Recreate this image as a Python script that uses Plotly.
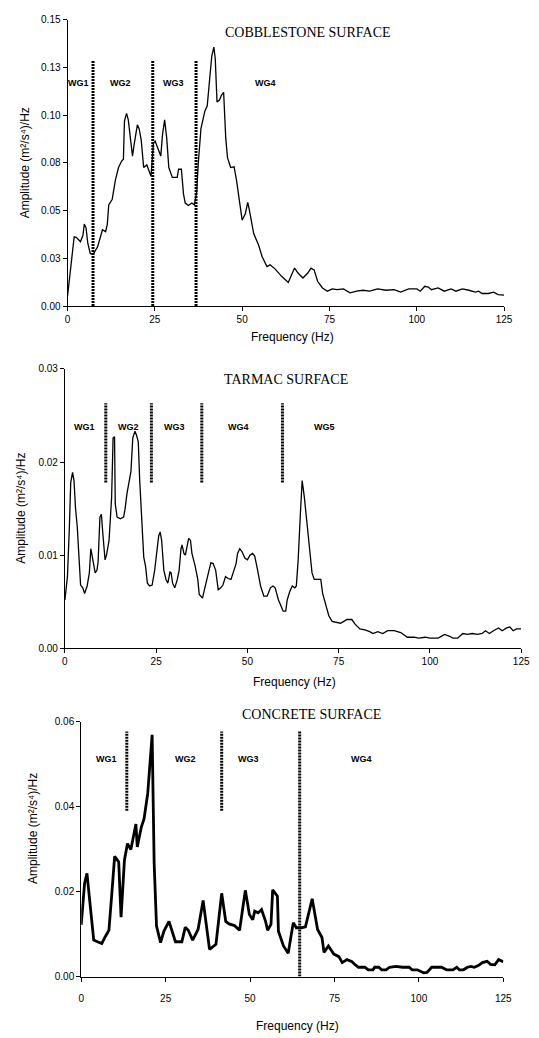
import plotly.graph_objects as go

W, H = 539, 1038

# ---------------- DATA ----------------
cob_freq = [0, 1.3, 1.9, 2.5, 3.7, 4.4, 4.8, 5.3, 5.8, 6.5, 7.3, 8.6, 9.5, 10.0, 10.9, 11.4, 11.8, 12.8,
            13.7, 14.6, 15.5, 16.0, 16.3, 16.9, 17.4, 18.1, 18.6, 19.1, 20.0, 20.5, 21.1, 21.8, 22.7, 23.5,
            23.9, 24.6, 25.1, 25.8, 26.7, 27.2, 27.8, 28.4, 29.0, 30.0, 31.4, 31.8, 32.6, 33.2, 33.7, 34.6,
            35.6, 36.3, 37.0, 37.4, 38.2, 39.3, 40.0, 40.7, 41.3, 41.9, 42.3, 42.8, 43.5, 44.1, 44.7, 45.3,
            45.8, 46.7, 47.7, 48.4, 49.1, 50.0, 50.9, 51.6, 52.1, 53.3, 54.7, 55.7, 57.1, 58.0, 59.4, 61.3,
            63.2, 64.1, 65.0, 66.0, 67.4, 68.8, 69.7, 70.6, 71.6, 73.0, 74.4, 75.8, 77.2, 79.0, 80.9, 82.8,
            84.6, 86.5, 88.8, 91.2, 93.5, 95.4, 97.7, 100.0, 101.0, 102.3, 103.3, 104.2, 106.1, 107.9, 109.8,
            111.2, 113.1, 114.9, 116.8, 117.7, 118.7, 120.5, 122.0, 123.3, 125.0]
cob_amp = [0.0052, 0.026, 0.0363, 0.036, 0.0337, 0.037, 0.043, 0.041, 0.033, 0.0276, 0.027, 0.031, 0.036,
           0.040, 0.039, 0.043, 0.053, 0.056, 0.066, 0.0726, 0.076, 0.077, 0.097, 0.101, 0.0976, 0.085,
           0.0786, 0.085, 0.095, 0.093, 0.087, 0.0726, 0.074, 0.070, 0.068, 0.0855, 0.0864, 0.083, 0.0786,
           0.090, 0.0976, 0.088, 0.0726, 0.0674, 0.0674, 0.0717, 0.0717, 0.0588, 0.054, 0.0527, 0.054,
           0.053, 0.060, 0.074, 0.093, 0.102, 0.105, 0.119, 0.131, 0.1357, 0.1296, 0.107, 0.108, 0.1106,
           0.112, 0.088, 0.0778, 0.0726, 0.073, 0.0657, 0.057, 0.045, 0.0484, 0.0544, 0.050, 0.038, 0.032,
           0.026, 0.0207, 0.0216, 0.0195, 0.0156, 0.0124, 0.0164, 0.0199, 0.0173, 0.0147, 0.0173, 0.0199,
           0.019, 0.013, 0.0095, 0.0078, 0.009, 0.0086, 0.009, 0.0069, 0.0078, 0.0083, 0.0078, 0.009,
           0.0083, 0.0086, 0.0073, 0.009, 0.009, 0.0078, 0.0104, 0.010, 0.0086, 0.0095, 0.0078, 0.009,
           0.0078, 0.009, 0.0083, 0.0073, 0.0078, 0.0066, 0.0066, 0.0073, 0.006, 0.0057]

tar_freq = [0, 0.7, 1.2, 1.6, 2.1, 2.5, 2.9, 3.4, 3.8, 4.3, 4.9, 5.4, 6.1, 6.7, 7.1, 7.7, 8.3, 8.8, 9.1,
            9.6, 10.0, 10.4, 11.0, 11.4, 12.1, 12.8, 13.2, 13.6, 13.8, 14.3, 15.2, 16.1, 16.5, 17.0, 17.6,
            18.1, 18.6, 19.2, 19.6, 20.1, 20.5, 21.2, 21.6, 22.1, 22.6, 23.2, 23.9, 24.6, 25.2, 25.7, 26.1,
            26.5, 27.1, 27.7, 28.2, 28.8, 29.1, 29.5, 30.1, 30.8, 31.3, 31.8, 32.1, 32.6, 33.0, 33.5, 33.9,
            34.4, 34.8, 35.7, 36.4, 36.8, 37.3, 37.7, 38.1, 38.8, 39.5, 40.0, 40.6, 41.3, 42.0, 42.7, 43.3,
            44.0, 44.7, 45.5, 46.3, 46.9, 47.3, 47.9, 48.5, 49.3, 50.0, 50.7, 51.4, 52.0, 52.7, 53.6, 54.5,
            55.4, 56.3, 57.0, 57.6, 58.5, 59.8, 60.5, 60.9, 61.6, 62.3, 63.0, 63.4, 63.9, 64.5, 65.0, 65.6,
            66.3, 67.0, 67.7, 68.3, 69.2, 70.1, 70.6, 71.5, 72.3, 73.2, 74.6, 75.5, 76.4, 77.3, 78.6, 79.5,
            80.8, 82.2, 83.5, 84.4, 85.7, 87.1, 88.4, 90.2, 92.0, 93.8, 95.6, 96.9, 98.7, 100.0, 102.3,
            104.0, 105.4, 106.3, 107.6, 109.0, 110.3, 111.6, 113.0, 114.3, 115.2, 116.3, 117.4, 118.8,
            119.8, 121.0, 121.9, 122.8, 123.7, 125.0]
tar_amp = [0.0052, 0.0077, 0.0127, 0.0178, 0.0189, 0.018, 0.0151, 0.013, 0.0102, 0.0068, 0.0065, 0.0059,
           0.0067, 0.0081, 0.0107, 0.0095, 0.0081, 0.0084, 0.0093, 0.0141, 0.0144, 0.0123, 0.0095, 0.0100,
           0.0116, 0.0162, 0.0226, 0.0227, 0.0155, 0.0141, 0.0139, 0.0141, 0.0150, 0.0166, 0.0180, 0.0190,
           0.0226, 0.0233, 0.0229, 0.0222, 0.0180, 0.0130, 0.0098, 0.0088, 0.0070, 0.0067, 0.0068, 0.0084,
           0.0102, 0.0121, 0.0125, 0.0116, 0.0084, 0.0074, 0.0070, 0.0082, 0.0081, 0.0070, 0.0065, 0.0074,
           0.0084, 0.0107, 0.0111, 0.0102, 0.0100, 0.0112, 0.0118, 0.0116, 0.0102, 0.0088, 0.0074, 0.0058,
           0.0056, 0.0054, 0.0061, 0.0074, 0.0084, 0.0092, 0.0091, 0.0084, 0.0063, 0.0065, 0.0068, 0.0077,
           0.0075, 0.0074, 0.0084, 0.0091, 0.0102, 0.0107, 0.0104, 0.0097, 0.0095, 0.0100, 0.0102, 0.0099,
           0.0086, 0.0067, 0.0056, 0.0056, 0.0065, 0.0067, 0.0065, 0.0052, 0.0040, 0.0040, 0.0052, 0.0061,
           0.0067, 0.0065, 0.0067, 0.0095, 0.0144, 0.0180, 0.0162, 0.0134, 0.0102, 0.0081, 0.0074, 0.0074,
           0.0074, 0.0059, 0.0047, 0.0035, 0.0029, 0.0028, 0.0027, 0.0029, 0.0031, 0.0031, 0.0026, 0.0021,
           0.0020, 0.0018, 0.0016, 0.0018, 0.0016, 0.0019, 0.0019, 0.0017, 0.0012, 0.0012, 0.0011, 0.0012,
           0.0011, 0.0011, 0.0015, 0.0013, 0.0011, 0.0011, 0.0016, 0.0015, 0.0016, 0.0015, 0.0016, 0.0019,
           0.0016, 0.0019, 0.0022, 0.0019, 0.0022, 0.0023, 0.0019, 0.0021, 0.0021]

con_freq = [0, 1.0, 1.7, 2.7, 3.7, 4.8, 6.1, 7.2, 8.2, 9.0, 9.9, 11.1, 11.8, 12.8, 13.7, 14.7, 16.2, 16.6,
            17.8, 18.6, 19.7, 21.0, 21.6, 22.3, 23.5, 24.5, 26.0, 27.9, 29.8, 30.8, 31.7, 33.0, 34.6, 36.1,
            38.0, 39.9, 41.6, 42.8, 43.8, 45.4, 46.9, 48.6, 49.8, 50.8, 51.4, 52.4, 53.4, 54.6, 55.2, 56.2,
            56.7, 58.1, 58.4, 59.9, 61.3, 62.8, 63.7, 65.2, 66.4, 68.4, 70.0, 71.3, 71.9, 73.2, 74.8, 76.3,
            77.3, 78.7, 80.2, 81.1, 82.1, 84.0, 85.0, 86.4, 86.9, 88.1, 89.0, 90.3, 91.3, 93.2, 95.1, 97.1,
            98.0, 99.5, 101.4, 102.4, 103.8, 106.7, 108.2, 110.1, 111.2, 112.0, 113.2, 114.4, 115.4, 116.4,
            117.6, 118.8, 120.2, 121.2, 122.5, 123.6, 125.0]
con_amp = [0.0122, 0.022, 0.0243, 0.0165, 0.0086, 0.0082, 0.0078, 0.0095, 0.0109, 0.0189, 0.0283, 0.0270,
           0.0140, 0.0274, 0.0313, 0.0299, 0.0359, 0.0305, 0.0352, 0.0371, 0.0431, 0.0569, 0.0266, 0.0119,
           0.0080, 0.0107, 0.0130, 0.0082, 0.0082, 0.0116, 0.0109, 0.0086, 0.0111, 0.0179, 0.0064, 0.0076,
           0.0196, 0.0130, 0.0124, 0.0120, 0.0109, 0.0203, 0.0146, 0.0134, 0.0154, 0.0150, 0.0158, 0.0130,
           0.0109, 0.0123, 0.0204, 0.0189, 0.0107, 0.0072, 0.0055, 0.0127, 0.0115, 0.0115, 0.0117, 0.0183,
           0.0111, 0.0092, 0.0057, 0.0072, 0.0053, 0.0047, 0.0033, 0.0040, 0.0035, 0.0028, 0.0022, 0.0022,
           0.0016, 0.0016, 0.0022, 0.0022, 0.0016, 0.0016, 0.0022, 0.0024, 0.0022, 0.0022, 0.0016, 0.0016,
           0.0009, 0.0010, 0.0022, 0.0022, 0.0016, 0.0016, 0.0022, 0.0016, 0.0016, 0.0022, 0.0024, 0.0022,
           0.0026, 0.0033, 0.0036, 0.0029, 0.0028, 0.0040, 0.0035]

# zone boundaries (Hz) and their vertical extents (amplitude)
cob_bounds = [7.3, 24.4, 36.8]
cob_bound_lo = [0.0, 0.0, 0.0]
cob_bound_hi = [0.129, 0.129, 0.129]
cob_zone_labels = ["WG1", "WG2", "WG3", "WG4"]
cob_zone_x = [3.1, 15.3, 30.2, 56.8]
cob_zone_y = 0.117

tar_bounds = [11.2, 23.7, 37.5, 59.6]
tar_bound_lo = [0.0178, 0.0178, 0.0178, 0.0178]
tar_bound_hi = [0.0263, 0.0263, 0.0263, 0.0263]
tar_zone_labels = ["WG1", "WG2", "WG3", "WG4", "WG5"]
tar_zone_x = [5.4, 17.4, 30.1, 47.5, 71.0]
tar_zone_y = 0.0238

con_bounds = [13.5, 41.6, 64.7]
con_bound_lo = [0.039, 0.039, 0.0]
con_bound_hi = [0.0577, 0.0577, 0.0577]
con_zone_labels = ["WG1", "WG2", "WG3", "WG4"]
con_zone_x = [7.5, 31.0, 49.5, 82.9]
con_zone_y = 0.0512

x_ticks = [0, 25, 50, 75, 100, 125]
cob_yticks = [0, 0.025, 0.05, 0.075, 0.1, 0.125, 0.15]
cob_ytext = ["0.00", "0.03", "0.05", "0.08", "0.10", "0.13", "0.15"]
tar_yticks = [0, 0.01, 0.02, 0.03]
tar_ytext = ["0.00", "0.01", "0.02", "0.03"]
con_yticks = [0, 0.02, 0.04, 0.06]
con_ytext = ["0.00", "0.02", "0.04", "0.06"]

titles = ["COBBLESTONE SURFACE", "TARMAC SURFACE", "CONCRETE SURFACE"]
ytitle = "Amplitude (m²/s⁴)/Hz"
xtitle = "Frequency (Hz)"

# ---------------- LAYOUT HELPERS ----------------
def px(x):
    return x / W

def py(y):
    return 1 - y / H

SANS = "Liberation Sans, Arial, sans-serif"
SERIF = "Liberation Serif, Times New Roman, serif"

fig = go.Figure()

panels = [
    dict(ax="", freq=cob_freq, amp=cob_amp, lw=1.3, xd=(66, 512.5), yd=(14, 303.3), yr=0.15,
         yt=cob_yticks, ytt=cob_ytext, b=cob_bounds, blo=cob_bound_lo, bhi=cob_bound_hi,
         zl=cob_zone_labels, zx=cob_zone_x, zy=cob_zone_y,
         title_xy=(312, 27), xt_xy=(296, 335), yt_xy=(22.5, 158), xstand=0),
    dict(ax="2", freq=tar_freq, amp=tar_amp, lw=1.3, xd=(63.3, 530), yd=(366.7, 649.3), yr=0.03,
         yt=tar_yticks, ytt=tar_ytext, b=tar_bounds, blo=tar_bound_lo, bhi=tar_bound_hi,
         zl=tar_zone_labels, zx=tar_zone_x, zy=tar_zone_y,
         title_xy=(289, 377), xt_xy=(298, 683), yt_xy=(18.5, 508), xstand=0),
    dict(ax="3", freq=con_freq, amp=con_amp, lw=2.8, xd=(80, 511.7), yd=(723.3, 981), yr=0.06,
         yt=con_yticks, ytt=con_ytext, b=con_bounds, blo=con_bound_lo, bhi=con_bound_hi,
         zl=con_zone_labels, zx=con_zone_x, zy=con_zone_y,
         title_xy=(316, 716), xt_xy=(301, 1031), yt_xy=(30.5, 831), xstand=8),
]

annotations = []
for i, p in enumerate(panels):
    xa = "x" + p["ax"]
    ya = "y" + p["ax"]
    for f, lo, hi in zip(p["b"], p["blo"], p["bhi"]):
        fig.add_trace(go.Scatter(x=[f, f], y=[lo, hi], mode="lines", xaxis=xa, yaxis=ya,
                                 line=dict(color="black", width=3, dash="2px,1px"),
                                 showlegend=False, hoverinfo="skip"))
    fig.add_trace(go.Scatter(x=p["freq"], y=p["amp"], mode="lines", xaxis=xa, yaxis=ya,
                             line=dict(color="black", width=p["lw"]), showlegend=False))
    for lab, zx in zip(p["zl"], p["zx"]):
        annotations.append(dict(x=zx, y=p["zy"], xref=xa, yref=ya, text="<b>" + lab + "</b>",
                                showarrow=False, font=dict(family=SANS, size=9, color="black")))
    fig.layout["xaxis" + p["ax"]] = dict(domain=[px(p["xd"][0]), px(p["xd"][1])], range=[0, 125],
                                         anchor=ya, tickvals=x_ticks, showline=True, linecolor="black",
                                         linewidth=1, ticks="outside", ticklen=4, tickcolor="black",
                                         showgrid=False, zeroline=False, fixedrange=True,
                                         ticklabelstandoff=p["xstand"],
                                         tickfont=dict(family=SANS, size=10, color="black"))
    fig.layout["yaxis" + p["ax"]] = dict(domain=[py(p["yd"][1]), py(p["yd"][0])], range=[0, p["yr"]],
                                         anchor=xa, tickvals=p["yt"], ticktext=p["ytt"], showline=True,
                                         linecolor="black", linewidth=1, ticks="outside", ticklen=4,
                                         tickcolor="black", showgrid=False, zeroline=False,
                                         tickfont=dict(family=SANS, size=10, color="black"))
    annotations.append(dict(x=px(p["title_xy"][0]), y=py(p["title_xy"][1]), xref="paper", yref="paper",
                            text=titles[i], showarrow=False, xanchor="center", yanchor="middle",
                            font=dict(family=SERIF, size=14, color="black")))
    annotations.append(dict(x=px(p["xt_xy"][0]), y=py(p["xt_xy"][1]), xref="paper", yref="paper",
                            text=xtitle, showarrow=False, xanchor="center", yanchor="middle",
                            font=dict(family=SANS, size=12, color="black")))
    annotations.append(dict(x=px(p["yt_xy"][0]), y=py(p["yt_xy"][1]), xref="paper", yref="paper",
                            text=ytitle, showarrow=False, textangle=-90, xanchor="center",
                            yanchor="middle", font=dict(family=SANS, size=12, color="black")))

fig.update_layout(width=W, height=H, margin=dict(l=0, r=0, t=0, b=0),
                  paper_bgcolor="white", plot_bgcolor="white", annotations=annotations,
                  showlegend=False)

fig.write_html("out.html", config={"displayModeBar": False})
